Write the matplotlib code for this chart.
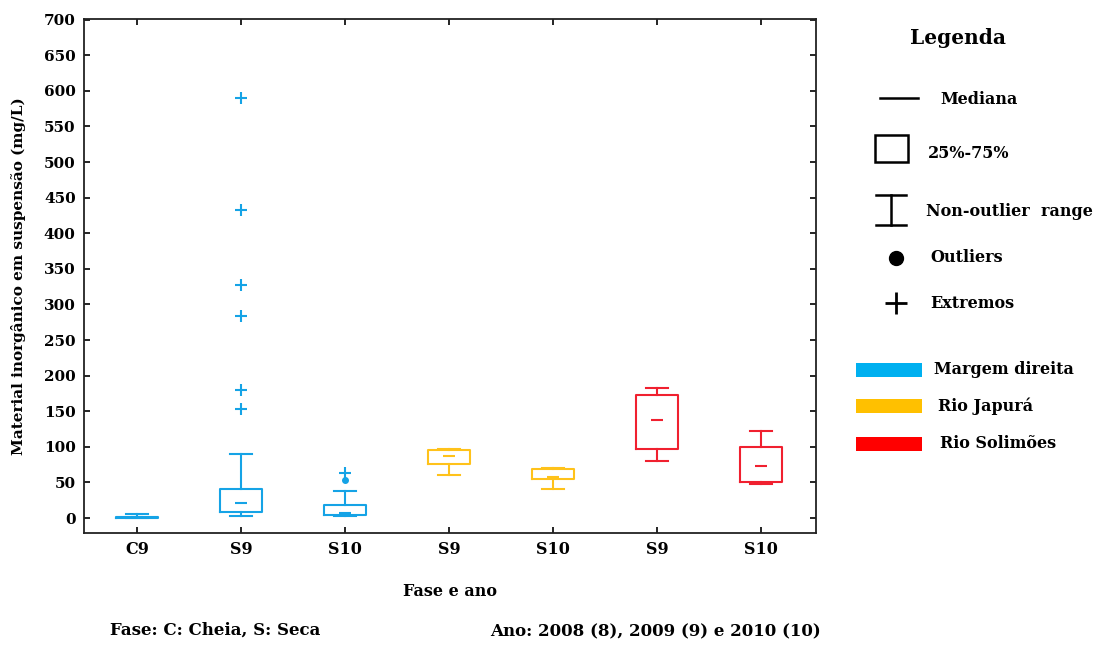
import matplotlib
matplotlib.use("Agg")
import matplotlib.pyplot as plt
from matplotlib.lines import Line2D
from matplotlib.patches import Rectangle

plt.rcParams['font.family'] = ['DejaVu Serif', 'Liberation Serif']
plt.rcParams['font.weight'] = 'bold'

# ---- data ----
categories = ["C9", "S9", "S10", "S9", "S10", "S9", "S10"]
groups = ["Margem direita", "Margem direita", "Margem direita",
          "Rio Japurá", "Rio Japurá", "Rio Solimões", "Rio Solimões"]
q1 = [0, 8, 4, 76, 55, 97, 50]
median = [1, 21, 7, 87, 58, 138, 73]
q3 = [2, 41, 18, 96, 69, 173, 100]
whisker_low = [0, 3, 3, 60, 41, 80, 48]
whisker_high = [5, 90, 38, 97, 70, 182, 122]
outliers = [[], [], [53], [], [], [], []]
extremes = [[], [590, 433, 327, 284, 180, 153], [63], [], [], [], []]
yticks = list(range(0, 701, 50))

group_colors = {"Margem direita": "#15A3E6", "Rio Japurá": "#FFC21A", "Rio Solimões": "#F0202F"}
legend_colors = {"Margem direita": "#00B0F0", "Rio Japurá": "#FFC000", "Rio Solimões": "#FF0000"}

W, H = 1110, 646
fig = plt.figure(figsize=(W / 100, H / 100), dpi=100)
ax = fig.add_axes([84 / W, 1 - 533 / H, (816 - 84) / W, (533 - 19) / H])

positions = list(range(1, len(categories) + 1))
for i, pos in enumerate(positions):
    c = group_colors[groups[i]]
    stats = [dict(med=median[i], q1=q1[i], q3=q3[i], whislo=whisker_low[i],
                  whishi=whisker_high[i], fliers=[], label=categories[i])]
    ax.bxp(stats, positions=[pos], widths=0.41, showfliers=False,
           boxprops=dict(color=c, linewidth=1.5),
           whiskerprops=dict(color=c, linewidth=1.5),
           capprops=dict(color=c, linewidth=1.5),
           medianprops=dict(linewidth=0),
           capwidths=0.21, manage_ticks=False)
    ax.hlines(median[i], pos - 0.06, pos + 0.06, color=c, linewidth=1.5)
    if extremes[i]:
        ax.plot([pos] * len(extremes[i]), extremes[i], linestyle='none', marker='+',
                color=c, markersize=9, markeredgewidth=1.5)
    if outliers[i]:
        ax.plot([pos] * len(outliers[i]), outliers[i], linestyle='none', marker='o',
                color=c, markersize=4)

ax.set_xlim(0.49, 7.53)
ax.set_ylim(-21, 701)
ax.set_yticks(yticks)
ax.set_yticklabels([str(v) for v in yticks], fontsize=11, fontweight='bold')
ax.set_xticks(positions)
ax.set_xticklabels(categories, fontsize=11.5, fontweight='bold')
ax.tick_params(direction='in', top=True, right=True, length=4, width=1.2, pad=6)
for s in ax.spines.values():
    s.set_linewidth(1.3)
    s.set_color('#222222')

ax.set_ylabel("Material inorgânico em suspensão (mg/L)", fontsize=11, fontweight='bold', labelpad=13)
ax.set_xlabel("Fase e ano", fontsize=11.5, fontweight='bold', labelpad=18)


def fx(x):
    return x / W


def fy(y):
    return 1 - y / H


fig.text(fx(110), fy(630), "Fase: C: Cheia, S: Seca", fontsize=12, fontweight='bold', va='center', ha='left')
fig.text(fx(490), fy(632), "Ano: 2008 (8), 2009 (9) e 2010 (10)", fontsize=12, fontweight='bold', va='center', ha='left')

# ---- legend ----
fig.text(fx(958), fy(38), "Legenda", fontsize=14.5, fontweight='bold', ha='center', va='center')
fig.add_artist(Line2D([fx(880), fx(918)], [fy(98), fy(98)], color='black', lw=1.8))
fig.text(fx(940), fy(100), "Mediana", fontsize=11.5, fontweight='bold', va='center')
fig.add_artist(Rectangle((fx(875), fy(162)), fx(33), 27 / H, fill=False, edgecolor='black', lw=1.8))
fig.text(fx(928), fy(154), "25%-75%", fontsize=11.5, fontweight='bold', va='center')
fig.add_artist(Line2D([fx(876), fx(906)], [fy(195), fy(195)], color='black', lw=1.8))
fig.add_artist(Line2D([fx(876), fx(906)], [fy(225), fy(225)], color='black', lw=1.8))
fig.add_artist(Line2D([fx(891), fx(891)], [fy(195), fy(225)], color='black', lw=1.8))
fig.text(fx(926), fy(211), "Non-outlier  range", fontsize=11.5, fontweight='bold', va='center')
fig.add_artist(Line2D([fx(896)], [fy(258)], marker='o', color='black', markersize=10, linestyle='none'))
fig.text(fx(930), fy(258), "Outliers", fontsize=11.5, fontweight='bold', va='center')
fig.add_artist(Line2D([fx(896)], [fy(303)], marker='+', color='black', markersize=16, markeredgewidth=2, linestyle='none'))
fig.text(fx(930), fy(304), "Extremos", fontsize=11.5, fontweight='bold', va='center')

for name, yc, tx in [("Margem direita", 370, 934), ("Rio Japurá", 406, 938), ("Rio Solimões", 444, 940)]:
    fig.add_artist(Rectangle((fx(856), fy(yc + 7)), fx(66), 14 / H, facecolor=legend_colors[name], edgecolor='none'))
    fig.text(fx(tx), fy(yc), name, fontsize=11.5, fontweight='bold', va='center')

fig.savefig("out.png", dpi=100)
